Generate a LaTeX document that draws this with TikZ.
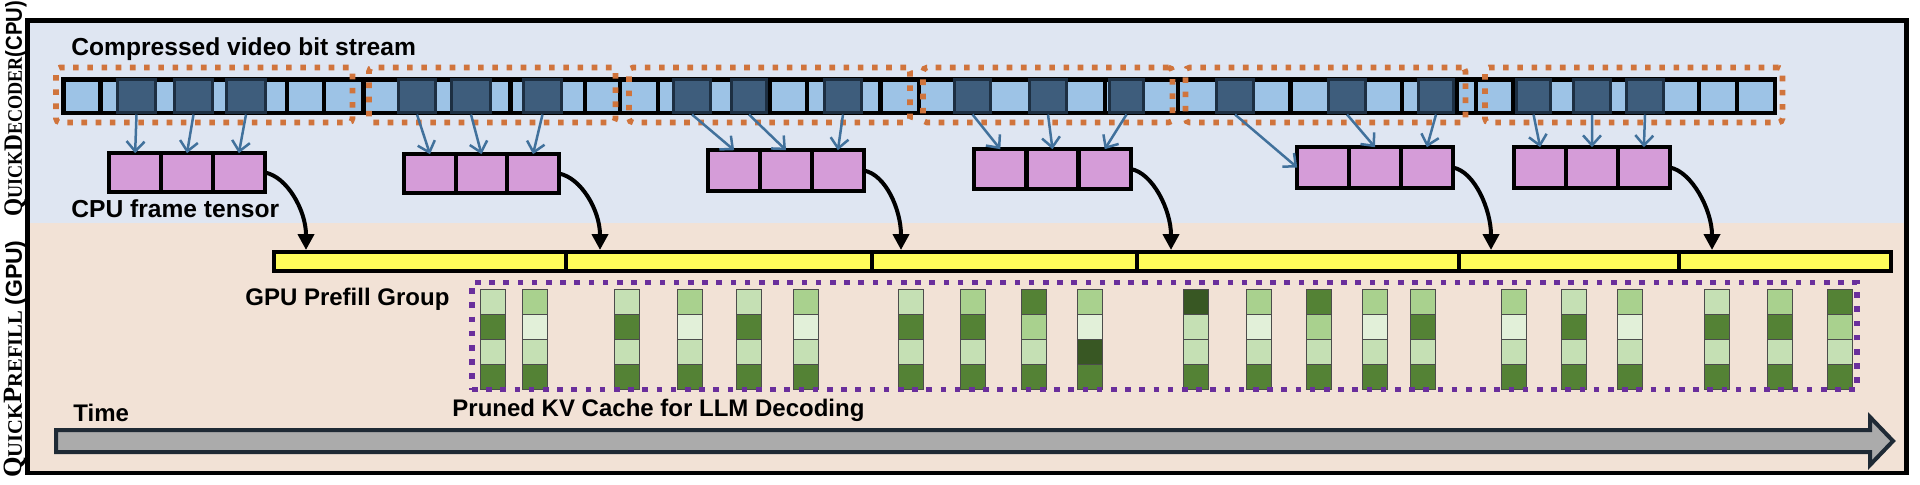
\documentclass[tikz,border=0pt]{standalone}
\usepackage{fontspec}
\setmainfont{Liberation Sans}
\newfontfamily\vlserif{Liberation Serif}
\usetikzlibrary{arrows.meta,fit}
\definecolor{bgblue}{HTML}{DFE6F2}
\definecolor{bgpeach}{HTML}{F2E2D6}
\definecolor{lblue}{HTML}{9DC3E6}
\definecolor{dblue}{HTML}{3E5D7C}
\definecolor{dblueedge}{HTML}{1D2F42}
\definecolor{pinkcell}{HTML}{D59CD8}
\definecolor{yfill}{HTML}{FFFC5A}
\definecolor{orangedot}{HTML}{D0743C}
\definecolor{purpdot}{HTML}{6A2F9C}
\definecolor{arrblue}{HTML}{41719C}
\definecolor{gA}{HTML}{E2F0D9}
\definecolor{gB}{HTML}{C5E0B4}
\definecolor{gC}{HTML}{A9D18E}
\definecolor{gD}{HTML}{548235}
\definecolor{gE}{HTML}{385723}
\definecolor{timefill}{HTML}{ABABAB}
\definecolor{timeedge}{HTML}{1F2A35}
\newcommand{\vlBig}[1]{{\fontsize{13.2}{15}\selectfont #1}}
\newcommand{\vlSm}[1]{{\fontsize{10.3}{12}\selectfont #1}}
\newcommand{\vlSans}[1]{{\fontsize{11.5}{13}\selectfont\bfseries #1}}
\begin{document}
\begin{tikzpicture}[x=0.5pt,y=-0.5pt,
  zbox/.style={inner sep=0pt,outer sep=0pt},
  darkcell/.style={zbox,draw=dblueedge,fill=dblue,line width=1.6pt},
  pcell/.style={zbox,draw=black,fill=pinkcell,line width=2.2pt},
  yseg/.style={zbox,draw=black,fill=yfill,line width=2.2pt},
  gcell/.style={zbox,draw=black!70,line width=0.5pt,minimum width=12.5pt,minimum height=12.5pt},
  orangebox/.style={zbox,draw=orangedot,line width=2.8pt,dash pattern=on 2.8pt off 4.3pt,rounded corners=2pt},
  purplebox/.style={zbox,draw=purpdot,line width=2.8pt,dash pattern=on 2.8pt off 4.3pt},
  feed/.style={draw=arrblue,line width=1.25pt,-{Straight Barb[length=5pt,width=9pt]}},
  hop/.style={draw=black,line width=2pt,-{Triangle[length=8pt,width=8pt]}},
  lbl/.style={font=\fontsize{12.3}{14}\selectfont\bfseries,inner sep=0pt,anchor=base west},
  lblsm/.style={lbl,font=\fontsize{12}{14}\selectfont\bfseries},
]
\useasboundingbox (0,0) rectangle (1920,484);
\fill[white] (0,0) rectangle (1920,484);
% backgrounds and frame
\fill[bgblue] (27.5,20.5) rectangle (1906.5,223);
\fill[bgpeach] (27.5,223) rectangle (1906.5,473);
\draw[line width=2.25pt] (27.5,20.5) rectangle (1906.5,473);

% side labels
\node[rotate=90,inner sep=0pt] (labcpu) at (15.5,109)
  {\scalebox{0.88}[1]{{\vlserif\bfseries\vlBig{Q}\vlSm{UICK}\vlBig{D}\vlSm{ECODER}}\vlSans{(CPU)}}};
\node[rotate=90,inner sep=0pt] (labgpu) at (15.5,359)
  {{\vlserif\bfseries\vlBig{Q}\vlSm{UICK}\vlBig{P}\vlSm{REFILL} }\vlSans{(GPU)}};

% bit stream
\node[zbox,draw=black,fill=lblue,line width=2.25pt,fit={(63.25,79.25) (1774.75,112.75)}] (stream) {};
\foreach \dx in {100.5,287,324,363.5,510.5,585,620,658,770,807,880.5,918.7,1105,1178,1290.5,1402,1457,1476,1513,1699,1737}
  \fill[black] ({\dx-2.1},77) rectangle ({\dx+2.1},115);
\foreach \i/\xa/\xb in {1/116/157,2/173/214,3/225/267,4/397/437,5/450/492,6/522/563,
  7/672/712,8/730/768,9/823/863,10/953/992,11/1028/1068,12/1108/1145,
  13/1215/1255,14/1327/1367,15/1417/1455,16/1515/1552,17/1572/1612,18/1625/1665}
  \node[darkcell,fit={({\xa+1.6},79.5) ({\xb-1.6},112.5)}] (d\i) {};
\foreach \i/\xa/\xb in {1/56/352.5,2/369/615.5,3/629/910,4/923/1172.5,5/1185.5/1465.5,6/1485/1782.5}
  \node[orangebox,fit={(\xa,67.5) (\xb,122.5)}] (ob\i) {};

% CPU frame tensors
\foreach \bi/\xa/\ya/\xb/\yb in {1/107/151/267/194,2/402/152/561/195,3/706/148/866/193,
  4/972/147/1133/191,5/1295/145/1455/190,6/1512/145/1672/190}{
  \pgfmathsetmacro\cw{(\xb-\xa-4.4)/3}
  \pgfmathsetmacro\lx{\xa+2.2}
  \pgfmathsetmacro\ty{\ya+2.2}
  \pgfmathsetmacro\by{\yb-2.2}
  \foreach \k/\nm in {0/a,1/b,2/c}
    \node[pcell,fit={({\lx+\k*\cw},\ty) ({\lx+(\k+1)*\cw},\by)}] (p\bi\nm) {};
  \node[zbox,fit=(p\bi a)(p\bi c)] (P\bi) {};
}

% decode arrows
\foreach \s/\tg in {1/1a,2/1b,3/1c,4/2a,5/2b,6/2c,7/3a,8/3b,9/3c,10/4a,11/4b,12/4c,14/5b,15/5c,16/6a,17/6b,18/6c}
  \draw[feed] ([yshift=-1pt]d\s.south) -- (p\tg.north);
\draw[feed] ([yshift=-1pt]d13.south) -- (p5a.west);

% GPU prefill groups
\foreach \i/\xa/\xb in {1/274.2/566,2/566/872,3/872/1137,4/1137/1459,5/1459/1679,6/1679/1890.8}
  \node[yseg,fit={(\xa,252.2) (\xb,270.8)}] (y\i) {};
\foreach \i/\tx in {1/306,2/600,3/901,4/1171,5/1491,6/1712}{
  \coordinate (t\i) at (\tx,250);
  \draw[hop] (P\i.east) .. controls +(22,4) and +(0,-40) .. (t\i);
}

% KV cache columns
\foreach \x/\ca/\cb/\cc/\cd [count=\i] in {493/gB/gD/gB/gD,535/gC/gA/gB/gD,
  627/gB/gD/gB/gD,690/gC/gA/gB/gD,749/gB/gD/gB/gD,806/gC/gA/gB/gD,
  911/gB/gD/gB/gD,973/gC/gD/gB/gD,1034/gD/gC/gB/gD,1090/gC/gA/gE/gD,
  1196/gE/gB/gB/gD,1259/gC/gA/gB/gD,1319/gD/gC/gB/gD,1375/gC/gA/gB/gD,1423/gC/gD/gB/gD,
  1514/gC/gA/gB/gD,1574/gB/gD/gB/gD,1630/gC/gA/gB/gD,
  1717/gB/gD/gB/gD,1780/gC/gD/gB/gD,1840/gD/gC/gB/gD}{
  \node[gcell,fill=\ca] (g\i a) at (\x,301.5) {};
  \node[gcell,fill=\cb] (g\i b) at (\x,326.5) {};
  \node[gcell,fill=\cc] (g\i c) at (\x,351.5) {};
  \node[gcell,fill=\cd] (g\i d) at (\x,376.5) {};
}
\node[purplebox,fit={(472,282.5) (1857,389.5)}] (kv) {};

% time arrow
\draw[fill=timefill,draw=timeedge,line width=2pt,line join=miter]
  (56,430) -- (1870,430) -- (1870,417) -- (1893,441) -- (1870,465) -- (1870,452) -- (56,452) -- cycle;

% texts
\node[lbl] (tstream) at (71,55) {Compressed video bit stream};
\node[lbl] (ttensor) at (71,217) {CPU frame tensor};
\node[lblsm] (tgroup) at (245,305.5) {GPU Prefill Group};
\node[lblsm] (tkv) at (452,416.5) {Pruned KV Cache for LLM Decoding};
\node[lblsm] (ttime) at (73,421) {Time};
\end{tikzpicture}
\end{document}
